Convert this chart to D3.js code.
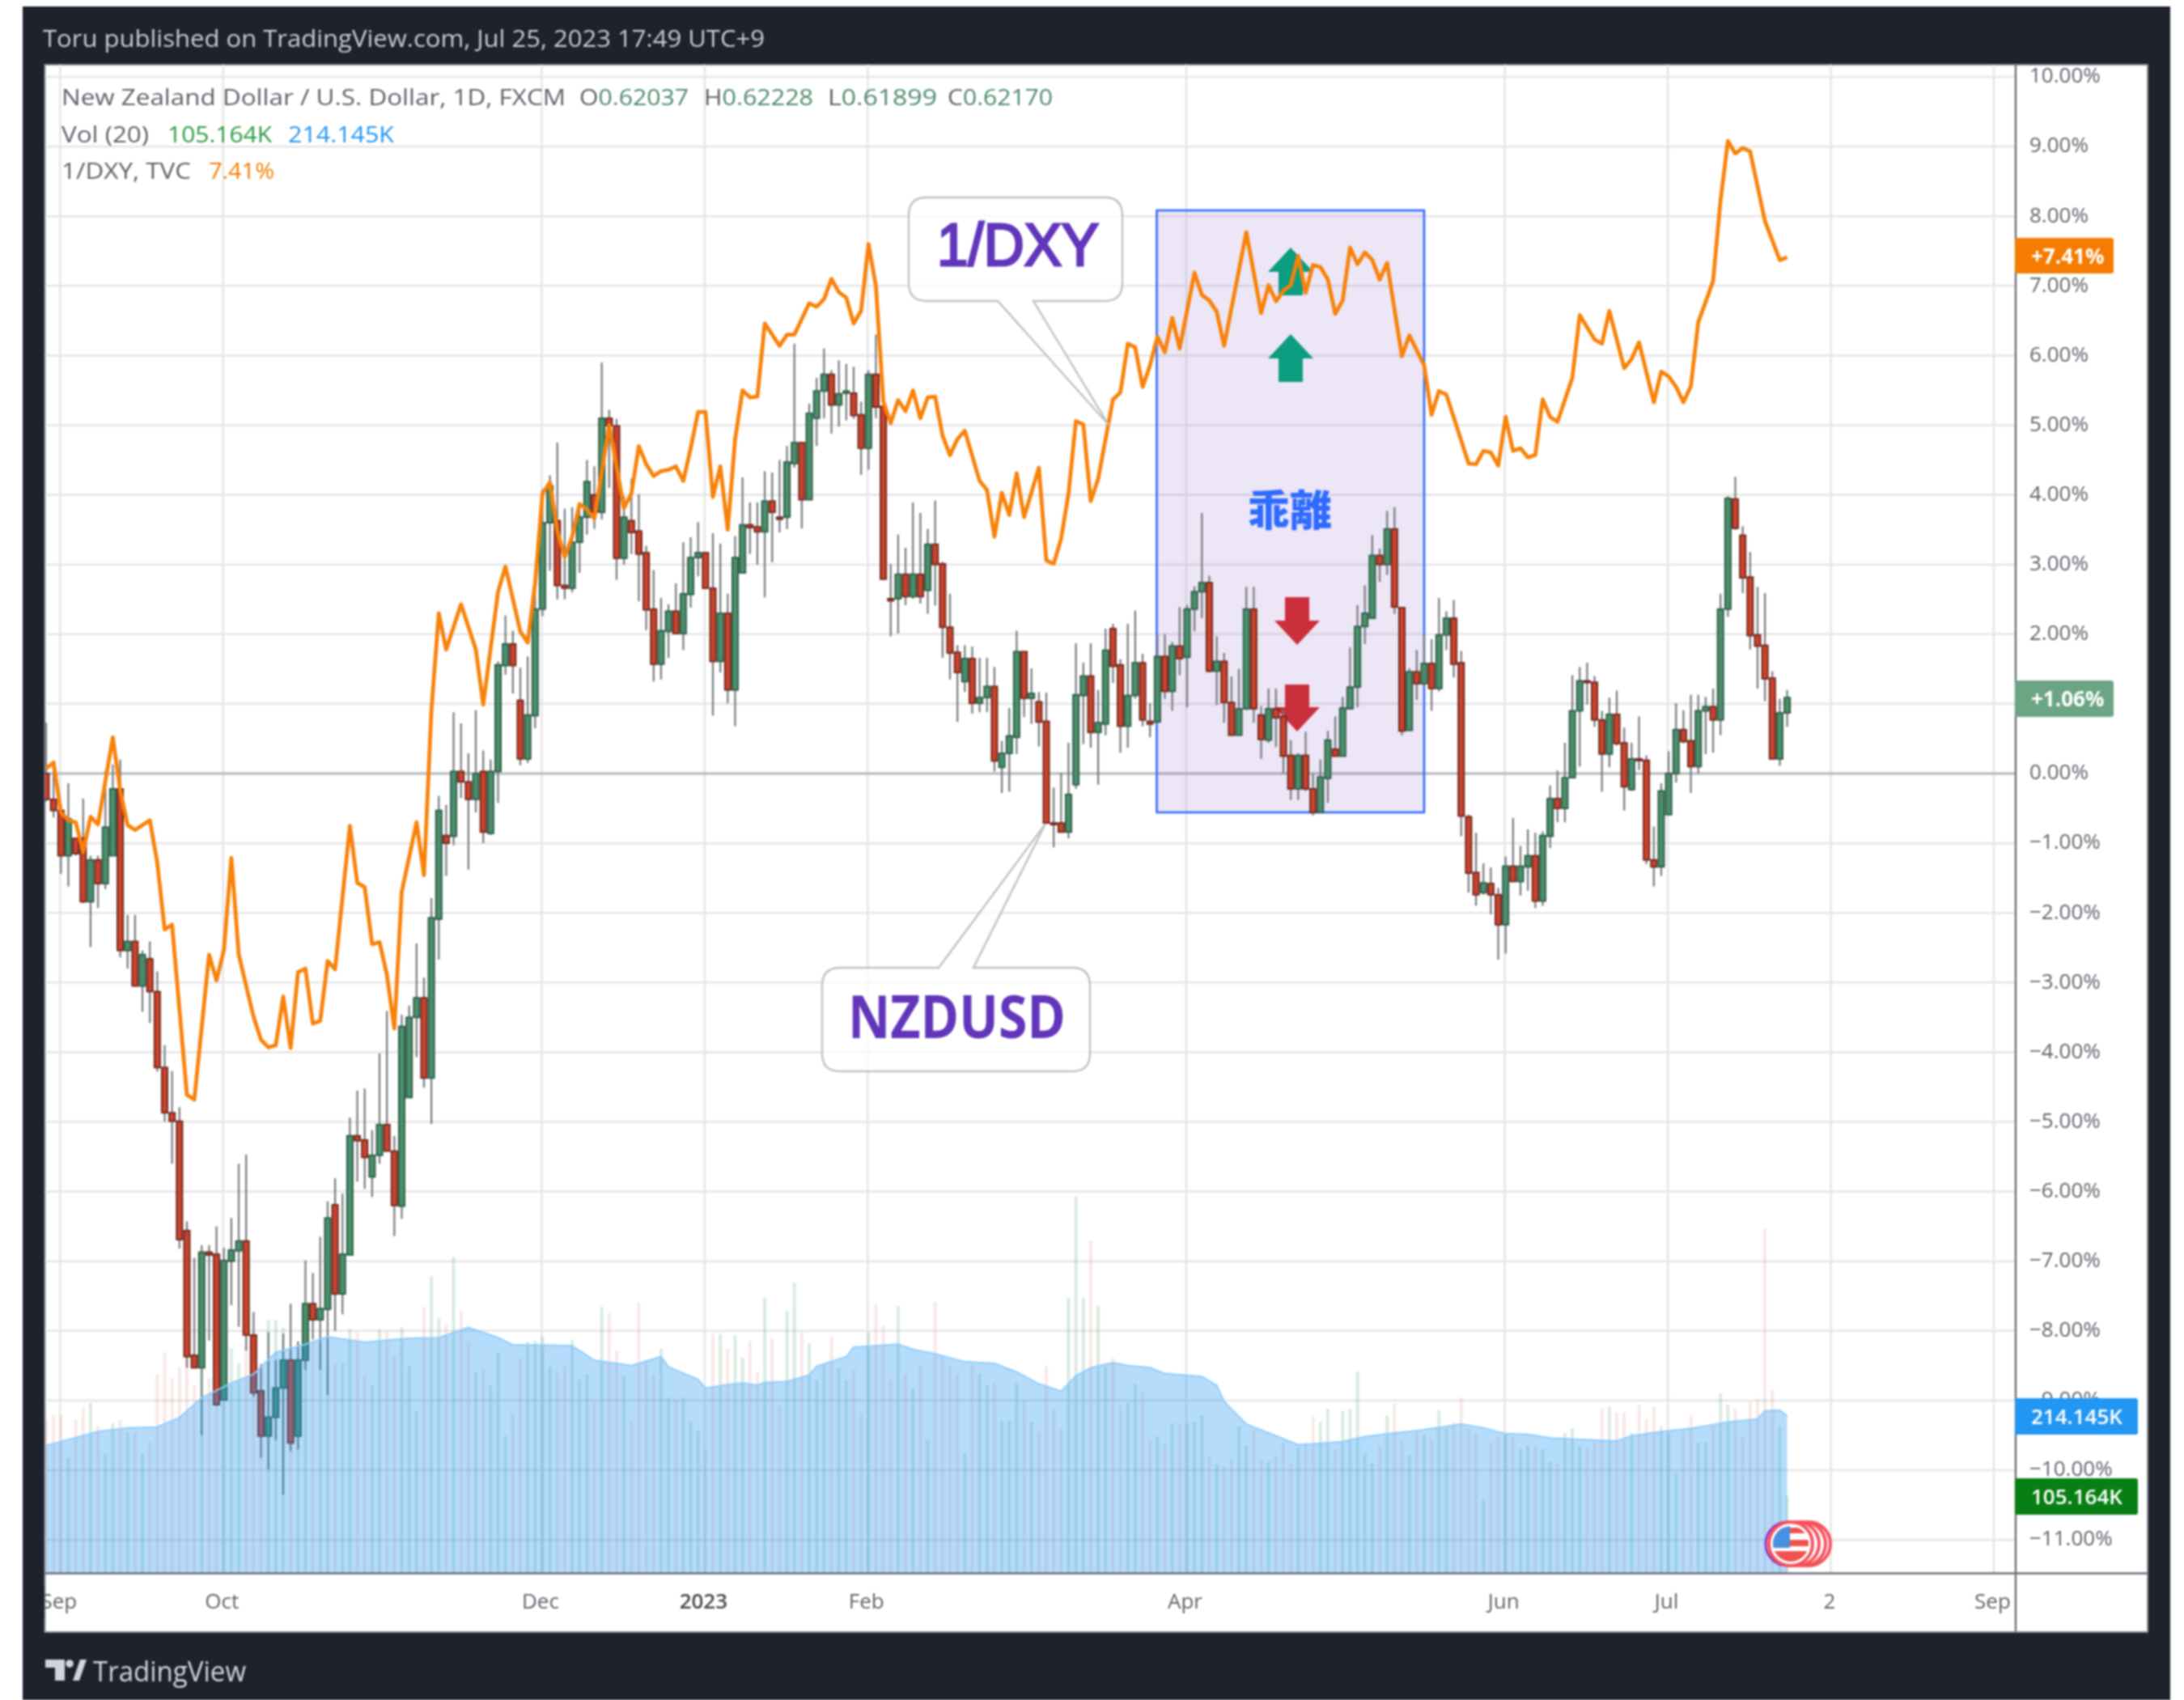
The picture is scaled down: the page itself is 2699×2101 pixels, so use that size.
<!DOCTYPE html>
<html><head><meta charset="utf-8">
<script src="https://cdn.jsdelivr.net/npm/d3@7/dist/d3.min.js"></script>
<style>html,body{margin:0;padding:0;background:#fff;overflow:hidden}svg{display:block;filter:blur(1px)}</style>
</head><body><svg id="c" width="2699" height="2101"></svg>
<script>
const opens=[0,-.37,-.53,-1.18,-.93,-.93,-1.84,-1.24,-1.58,-1.18,
-.22,-2.54,-2.41,-3.05,-2.66,-3.13,-4.22,-4.87,-4.99,-6.56,
-8.35,-8.53,-6.87,-6.9,-8.99,-7.0,-6.85,-6.71,-8.06,-8.86,
-9.51,-9.24,-8.82,-8.42,-9.51,-8.42,-7.61,-7.84,-7.69,-6.19,
-7.47,-6.91,-5.2,-5.26,-5.79,-5.48,-5.04,-5.42,-6.21,-4.65,
-3.5,-3.22,-4.37,-2.09,-.89,-.9,.03,-.12,-.37,.03,
-.86,.03,1.55,1.86,1.05,.21,.83,2.36,3.6,3.63,
2.7,2.66,3.32,3.68,4.0,3.75,5.1,4.99,3.09,3.63,
3.48,3.17,2.36,1.57,2.04,2.33,2.01,2.57,3.1,3.17,
2.66,1.61,2.3,1.2,2.88,3.57,3.54,3.47,3.91,3.68,
3.68,4.45,4.75,3.93,5.1,5.49,5.73,5.29,5.46,5.46,
5.15,4.67,5.73,5.27,2.51,2.51,2.86,2.54,2.86,2.63,
3.29,3.01,2.1,1.74,1.32,1.65,1.01,1.09,1.25,.09,
.29,.52,1.75,1.08,1.03,.75,-.71,-.71,-.84,-.16,
1.12,1.4,.59,.71,2.08,1.56,.68,1.12,1.59,.75,
.74,1.68,1.18,1.83,1.67,2.36,2.61,2.74,1.47,1.61,
1.02,.55,.93,2.36,.84,.48,.93,.82,.26,-.22,
.26,-.22,-.56,-.07,.35,.25,.93,1.24,2.11,2.23,
3.13,3.0,3.51,2.38,.62,1.46,1.29,1.58,1.22,1.99,
2.23,1.59,-.62,-1.42,-1.71,-1.58,-1.74,-2.17,-1.33,-1.55,
-1.34,-1.18,-1.83,-.9,-.36,-.5,-.06,.9,1.33,1.31,
.77,.28,.85,.44,-.23,.21,.19,-1.24,-1.34,-.59,
0,.63,.47,.1,.9,.96,.77,2.36,3.94,3.42,
2.82,1.99,1.84,1.37,.21,.87];
const closes=[-.37,-.53,-1.18,-.65,-1.15,-1.84,-1.24,-1.58,-.77,-.22,
-2.54,-2.41,-3.05,-2.6,-3.13,-4.22,-4.87,-4.99,-6.69,-8.37,
-8.53,-6.87,-6.91,-9.06,-6.99,-6.84,-6.71,-8.06,-8.89,-9.51,
-9.24,-8.82,-8.42,-9.61,-8.42,-7.61,-7.84,-7.68,-6.38,-7.47,
-6.9,-5.2,-5.27,-5.51,-5.48,-5.04,-5.42,-6.2,-3.63,-3.5,
-3.22,-4.37,-2.07,-.53,-1.0,.03,-.12,-.37,0,-.84,
.03,1.56,1.86,1.55,.21,.84,2.36,3.6,4.13,2.7,
2.66,3.32,3.68,4.19,3.75,5.1,4.99,3.09,3.68,3.46,
3.15,2.35,1.57,2.05,2.33,2.01,2.58,3.1,3.17,2.66,
1.61,2.3,1.2,3.1,3.57,3.53,3.47,3.91,3.75,3.65,
4.47,4.75,3.93,5.17,5.49,5.73,5.29,5.45,5.49,5.14,
4.67,5.73,5.26,2.79,2.48,2.86,2.54,2.86,2.54,3.29,
3.0,2.1,1.73,1.45,1.65,1.01,1.09,1.25,.18,.29,
.54,1.75,1.08,1.15,.74,-.71,-.72,-.84,-.3,1.13,
1.4,.59,.73,1.77,1.54,.68,1.12,1.59,.77,.71,
1.68,1.18,1.83,1.65,2.36,2.61,2.74,1.47,1.61,1.02,
.55,.93,2.36,.93,.49,.93,.8,.25,-.22,.26,
-.22,-.56,-.05,.48,.25,.94,1.24,2.11,2.3,3.13,
3.0,3.51,2.39,.61,1.46,1.29,1.58,1.22,1.99,2.23,
1.57,-.61,-1.43,-1.74,-1.57,-1.74,-2.17,-1.33,-1.55,-1.33,
-1.18,-1.83,-.89,-.36,-.5,-.06,.9,1.33,1.31,.77,
.28,.85,.43,-.19,.21,.19,-1.24,-1.34,-.25,0,
.63,.46,.1,.9,.96,.77,2.36,3.95,3.52,2.81,
1.98,1.83,1.36,.21,.87,1.09];
const highs=[.73,.09,-.45,-.14,-.93,-.36,-1.18,-1.18,.04,.13,
.2,-2.03,-2.03,-2.54,-2.41,-2.84,-3.9,-4.27,-4.79,-6.43,
-6.95,-6.77,-6.77,-6.5,-6.81,-6.38,-5.6,-5.47,-7.73,-8.48,
-8.02,-8.42,-8.04,-7.61,-8.15,-6.99,-7.17,-6.65,-6.14,-5.81,
-6.03,-4.94,-4.55,-4.52,-5.12,-4.02,-3.41,-5.2,-3.46,-3.33,
-2.44,-2.93,-1.79,-.32,-.45,.88,.72,.29,.91,.33,
.2,1.61,2.27,2.05,1.52,1.68,2.65,4.08,4.28,4.75,
3.8,3.82,3.87,4.5,4.41,5.9,5.22,5.09,3.98,4.23,
4.01,3.27,2.92,2.52,2.43,2.73,3.32,3.39,3.61,3.17,
3.45,3.3,2.58,3.41,4.25,3.89,3.89,4.34,4.32,4.5,
4.7,6.17,4.75,5.31,5.68,6.1,5.79,5.93,5.88,5.84,
5.34,5.79,6.3,5.27,3.01,3.43,3.24,3.89,3.74,3.51,
3.92,3.04,2.58,1.84,1.84,1.82,1.66,1.66,1.53,.47,
.94,2.05,1.75,1.51,1.17,1.16,-.2,.01,.44,1.87,
1.59,1.87,1.2,2.08,2.15,1.64,2.15,2.34,1.72,1.01,
2.0,2.0,1.89,2.39,2.42,2.69,3.74,2.84,1.97,1.73,
1.39,1.5,2.68,2.68,.97,1.22,1.22,.91,.48,.29,
.6,0,.2,.61,.82,1.1,1.81,2.42,2.7,3.42,
3.23,3.77,3.82,2.39,1.51,1.77,2.0,1.93,2.52,2.33,
2.49,1.76,-.59,-.85,-1.29,-1.35,-1.64,-1.19,-.64,-1.04,
-.8,-.85,-.83,-.17,.04,.44,1.41,1.53,1.59,1.4,
.9,1.09,1.19,.66,.44,.82,.26,-.76,-.14,.32,
1.01,.91,1.13,1.13,1.1,1.22,2.58,3.98,4.26,3.55,
3.18,2.68,2.59,1.47,1.07,1.2];
const lows=[-.40,-.63,-1.44,-1.62,-1.18,-1.86,-2.49,-1.93,-1.66,-1.18,
-2.64,-2.8,-3.05,-3.42,-3.58,-4.28,-5.0,-5.6,-6.82,-8.53,
-8.53,-9.5,-8.14,-9.08,-9.0,-7.63,-7.94,-8.28,-8.95,-9.82,
-9.99,-9.57,-10.35,-9.73,-9.7,-8.56,-8.12,-8.56,-8.92,-8.0,
-7.76,-6.91,-5.86,-5.96,-6.08,-5.6,-5.42,-6.64,-6.39,-4.65,
-4.07,-4.51,-5.03,-2.67,-1.47,-1.03,-.35,-1.38,-.56,-1.0,
-.88,-.42,1.42,1.15,.12,.15,.65,2.26,2.91,2.5,
2.5,2.6,2.88,3.43,3.51,3.65,4.1,2.78,3.0,3.15,
2.47,2.06,1.32,1.35,1.66,2.01,1.77,2.38,2.83,2.66,
.83,1.45,1.01,.68,2.88,3.15,3.0,2.53,3.03,3.46,
3.51,4.39,3.52,3.93,4.7,5.1,4.88,4.98,5.07,5.09,
4.29,4.36,5.1,2.79,1.97,2.01,2.42,2.51,2.44,2.29,
2.41,1.66,1.35,.74,1.17,.86,.88,.88,.03,-.28,
-.26,.28,.81,.71,.39,-.71,-1.06,-.85,-.93,-.22,
.42,.37,-.16,.55,1.3,.3,.37,1.07,.68,.52,
.74,1.07,.9,1.41,.95,2.04,2.23,1.45,.98,.73,
.55,.55,.91,.73,.21,.44,.38,0,-.38,-.38,
-.25,-.6,-.56,-.42,.25,.25,.93,.95,1.86,2.23,
2.75,2.85,2.29,.55,.62,1.06,1.24,.9,1.18,1.77,
1.38,-.9,-1.71,-1.9,-1.74,-2.02,-2.67,-2.58,-1.55,-1.75,
-1.68,-1.93,-1.9,-1.07,-.7,-.7,-.07,.1,.99,.67,
-.26,.09,.4,-.53,-.25,.05,-1.3,-1.62,-1.47,-.59,
-.13,.43,-.28,0,.28,.3,.55,2.25,3.5,2.59,
1.78,1.22,1.04,.21,.11,.67];
const volumes=[209,215,215,157,209,226,232,200,162,204,
209,192,192,162,179,271,301,266,281,290,
256,281,266,281,290,306,286,311,286,286,
345,345,335,306,296,301,318,311,281,286,
286,333,328,271,256,333,330,296,335,283,
221,363,405,348,340,431,358,316,274,278,
256,301,187,219,293,316,317,322,281,274,
283,318,264,271,234,363,355,303,269,207,
369,291,271,306,239,236,239,207,194,170,
326,326,306,324,294,317,274,376,319,228,
358,396,328,313,263,285,322,280,263,278,
219,328,367,337,263,364,272,252,283,182,
370,295,283,272,163,283,272,256,259,208,
208,259,235,206,193,282,224,197,376,514,
376,453,364,282,293,228,232,258,248,180,
186,178,204,204,204,206,215,160,149,145,
156,200,174,195,154,152,160,178,149,171,
178,213,206,224,169,221,224,275,163,150,
174,215,231,182,161,193,189,182,222,197,
206,239,197,189,100,178,186,189,186,169,
174,174,169,152,149,191,197,173,171,178,
224,227,219,219,191,230,210,227,200,191,
136,193,215,178,178,200,245,230,224,186,
233,237,470,250,200,105.164];
const volMaBars=[0,3,7,11,15,18,21,25,28,31,35,38,43,49,53,57,61,63,67,71,74,79,83,84,88,89,92,94,96,97,100,103,104,108,109,112,115,117,120,124,128,131,134,137,139,141,144,146,149,151,156,158,159,162,165,169,171,175,178,182,185,191,194,197,200,203,207,212,214,219,222,227,231,232,234,235];
const volMaValues=[174,182,193,198,199,212,239,259,271,301,312,322,315,320,321,335,321,311,311,310,290,283,295,281,264,252,257,259,256,260,261,270,282,295,308,310,312,305,299,288,286,274,258,248,269,280,287,283,280,272,268,256,234,203,191,175,176,179,186,191,194,203,198,190,189,184,182,180,187,194,197,206,210,221,222,214.145];
const dxyBars=[0,1,2,3,4,5,6,7,9,10,11,12,14,15,16,17,19,20,22,23,24,25,26,28,29,30,31,32,33,34,35,36,37,38,39,41,42,43,44,45,46,47,48,50,51,52,53,54,56,58,59,61,62,64,65,66,67,68,69,70,71,72,73,74,76,78,79,80,81,82,83,84,85,86,87,88,89,90,91,92,93,94,95,96,97,99,100,101,103,104,105,106,107,108,109,110,111,112,113,114,115,116,117,118,119,120,121,122,123,124,126,127,128,129,130,131,132,134,135,136,137,138,139,140,141,142,144,145,146,147,148,149,150,151,152,153,155,156,157,158,159,162,164,165,166,167,168,169,170,171,172,173,174,175,176,177,178,179,180,181,183,184,186,187,188,189,192,193,194,195,196,197,198,199,200,201,202,203,204,206,207,209,210,211,213,214,215,217,218,219,220,221,222,223,224,225,226,227,228,229,230,232,234,235];
const dxyValues=[.07,.16,-.56,-.67,-.70,-1.13,-.62,-.73,.52,-.24,-.74,-.81,-.67,-1.28,-2.24,-2.17,-4.61,-4.68,-2.60,-2.97,-2.53,-1.21,-2.60,-3.49,-3.82,-3.93,-3.90,-3.20,-3.94,-2.85,-2.80,-3.59,-3.55,-2.69,-2.81,-.75,-1.57,-1.63,-2.45,-2.42,-2.89,-3.66,-1.70,-.70,-1.46,.90,2.30,1.78,2.43,1.78,.99,2.61,2.97,2.04,1.88,2.73,4.02,4.18,3.48,3.11,3.40,3.87,3.79,3.66,5.0,3.81,4.02,4.70,4.44,4.27,4.34,4.36,4.41,4.20,4.67,5.19,5.19,3.97,4.41,3.50,4.80,5.50,5.40,5.41,6.46,6.14,6.30,6.30,6.75,6.70,6.81,7.10,6.91,6.83,6.46,6.64,7.60,7.0,5.34,5.03,5.36,5.2,5.5,5.1,5.4,5.41,4.85,4.57,4.8,4.92,4.2,4.07,3.4,4.03,3.71,4.31,3.68,4.39,3.06,3.01,3.37,4.02,5.06,5.01,3.91,4.23,5.37,5.47,6.17,6.12,5.55,5.86,6.27,6.05,6.54,6.10,7.19,6.87,6.79,6.63,6.14,7.77,6.61,7.01,6.78,6.93,7.01,7.43,6.90,7.30,7.27,7.09,6.60,6.79,7.55,7.31,7.48,7.37,7.09,7.33,5.99,6.29,5.86,5.15,5.49,5.44,4.45,4.44,4.63,4.61,4.42,5.12,4.63,4.67,4.54,4.57,5.37,5.12,5.05,5.68,6.58,6.23,6.17,6.64,5.82,5.95,6.19,5.33,5.77,5.70,5.55,5.33,5.56,6.48,6.77,7.07,8.22,9.08,8.9,8.98,8.93,7.93,7.37,7.41];
const monthBars=[2,24,67,89,111,154,197,219,241,263];
const monthLabels=["Sep","Oct","Dec","2023","Feb","Apr","Jun","Jul","2","Sep"];
const pctTicks=[10,9,8,7,6,5,4,3,2,1,0,-1,-2,-3,-4,-5,-6,-7,-8,-9,-10,-11];

const FONT='"Open Sans","Liberation Sans",sans-serif';
const svg=d3.select('#c');
const x=d3.scaleLinear().domain([0,235]).range([57,2208.6]);
const y=d3.scaleLinear().domain([0,10]).range([956,95]);
const vol=d3.scaleLinear().domain([0,214.145]).range([1944,1750]);
const PL=55.5,PR=2491,PT=80,PB=1944.5,FB=2017,FR=2654;

svg.append('rect').attr('x',28).attr('y',8).attr('width',2654).attr('height',2093).attr('fill','#1e222d');
svg.append('rect').attr('x',PL).attr('y',PT).attr('width',FR-PL).attr('height',FB-PT).attr('fill','#fff').attr('stroke','#8d9098').attr('stroke-width',2);
svg.append('clipPath').attr('id','plot').append('rect').attr('x',PL).attr('y',PT).attr('width',PR-PL).attr('height',PB-PT);
const plot=svg.append('g').attr('clip-path','url(#plot)');

// grid
plot.append('g').selectAll('line').data(pctTicks.filter(d=>d!==0)).join('line')
 .attr('x1',PL).attr('x2',PR).attr('y1',d=>y(d)).attr('y2',d=>y(d)).attr('stroke','#e6e6e7').attr('stroke-width',2.6);
plot.append('g').selectAll('line').data(monthBars).join('line')
 .attr('x1',d=>x(d)-1).attr('x2',d=>x(d)-1).attr('y1',PT).attr('y2',PB).attr('stroke','#e6e6e7').attr('stroke-width',2.6);
plot.append('line').attr('x1',PL).attr('x2',PR).attr('y1',y(0)).attr('y2',y(0)).attr('stroke','#b4b7bd').attr('stroke-width',2.8);

// divergence box and arrows
plot.append('rect').attr('x',1429.5).attr('y',260).attr('width',330.5).attr('height',744)
 .attr('fill','rgba(103,58,183,0.125)').attr('stroke','#2f6bff').attr('stroke-width',2.6);
const up=(cx,t,b)=>`M${cx} ${t}L${cx+28} ${t+30}H${cx+15}V${b}H${cx-15}V${t+30}H${cx-28}Z`;
const dn=(cx,t,b)=>`M${cx-15} ${t}H${cx+15}V${b-30}H${cx+28}L${cx} ${b}L${cx-28} ${b-30}H${cx-15}Z`;
plot.append('path').attr('d',up(1595,306,365)).attr('fill','#0d9d80');
plot.append('path').attr('d',up(1595,413,472)).attr('fill','#0d9d80');
plot.append('path').attr('d',dn(1603,738,797)).attr('fill','#cc2f3c');
plot.append('path').attr('d',dn(1603,846,904)).attr('fill','#cc2f3c');

// candles
const idx=d3.range(opens.length);
plot.append('g').selectAll('line').data(idx).join('line')
 .attr('x1',i=>x(i)).attr('x2',i=>x(i)).attr('y1',i=>y(highs[i])).attr('y2',i=>y(lows[i]))
 .attr('stroke','#76787c').attr('stroke-width',2.2);
plot.append('g').selectAll('rect').data(idx).join('rect')
 .attr('x',i=>x(i)-3.6).attr('width',7.2)
 .attr('y',i=>y(Math.max(opens[i],closes[i])))
 .attr('height',i=>Math.max(2,Math.abs(y(opens[i])-y(closes[i]))))
 .attr('fill',i=>closes[i]>=opens[i]?'#4c8f6c':'#c8442f')
 .attr('stroke',i=>closes[i]>=opens[i]?'#2a5a44':'#6c2419').attr('stroke-width',1.8);

// volume
plot.append('g').selectAll('rect').data(idx).join('rect')
 .attr('x',i=>x(i)-1.9).attr('width',3.8).attr('y',i=>vol(volumes[i])).attr('height',i=>vol(0)-vol(volumes[i]))
 .attr('fill',i=>closes[i]>=opens[i]?'rgba(83,160,110,0.22)':'rgba(215,110,100,0.17)');
const maPts=volMaBars.map((b,i)=>[b,volMaValues[i]]);
plot.append('path').attr('d',d3.area().x(d=>x(d[0])).y0(vol(0)).y1(d=>vol(d[1]))(maPts)).attr('fill','rgba(33,150,243,0.33)');
plot.append('path').attr('d',d3.line().x(d=>x(d[0])).y(d=>vol(d[1]))(maPts)).attr('fill','none').attr('stroke','#90cdfd').attr('stroke-width',2);

// 1/DXY
const dxyPts=dxyBars.map((b,i)=>[b,dxyValues[i]]);
plot.append('path').attr('d',d3.line().x(d=>x(d[0])).y(d=>y(d[1]))(dxyPts)).attr('fill','none').attr('stroke','#f8820a').attr('stroke-width',4.8).attr('stroke-linejoin','round');

// divergence label
plot.append('text').attr('x',1594).attr('y',650).attr('text-anchor','middle').attr('font-family','"Noto Sans CJK JP"').attr('font-weight',900).attr('font-size',52).attr('fill','#2f6bff').text('乖離');

// callouts
function callout(l,t,r,b,px1,px2,tipx,tipy,top){
  const R=22;
  const d= top
   ? `M${l+R} ${t}H${px1}L${tipx} ${tipy}L${px2} ${t}H${r-R}Q${r} ${t} ${r} ${t+R}V${b-R}Q${r} ${b} ${r-R} ${b}H${l+R}Q${l} ${b} ${l} ${b-R}V${t+R}Q${l} ${t} ${l+R} ${t}Z`
   : `M${l+R} ${t}H${r-R}Q${r} ${t} ${r} ${t+R}V${b-R}Q${r} ${b} ${r-R} ${b}H${px2}L${tipx} ${tipy}L${px1} ${b}H${l+R}Q${l} ${b} ${l} ${b-R}V${t+R}Q${l} ${t} ${l+R} ${t}Z`;
  plot.append('path').attr('d',d).attr('fill','rgba(255,255,255,0.72)').attr('stroke','#c0c1c4').attr('stroke-width',2.4);
}
callout(1123,244,1387,372,1233,1277,1370,525,false);
callout(1016,1196,1347,1324,1160,1203,1292,1018,true);
plot.append('text').attr('x',1158).attr('y',328).attr('font-family','"Liberation Sans"').attr('font-size',74).attr('font-weight',400).attr('stroke','#6236bb').attr('stroke-width',3).attr('fill','#6236bb').attr('textLength',200).attr('lengthAdjust','spacingAndGlyphs').text('1/DXY');
plot.append('text').attr('x',1048).attr('y',1283).attr('font-family',FONT).attr('font-size',74).attr('font-weight',700).attr('fill','#6236bb').attr('textLength',269).attr('lengthAdjust','spacingAndGlyphs').text('NZDUSD');

// event flags
const fg=svg.append('g');
fg.append('circle').attr('cx',2209).attr('cy',1908).attr('r',27).attr('fill','#fff').attr('stroke','#9a35c2').attr('stroke-width',3);
[2235,2229,2221].forEach(c=>fg.append('circle').attr('cx',c).attr('cy',1908).attr('r',27).attr('fill','#fff').attr('stroke','#f5525c').attr('stroke-width',4));
fg.append('circle').attr('cx',2213).attr('cy',1908).attr('r',27).attr('fill','#fff').attr('stroke','#f5525c').attr('stroke-width',4);
svg.append('clipPath').attr('id','flag').append('circle').attr('cx',2213).attr('cy',1908).attr('r',22);
const fl=fg.append('g').attr('clip-path','url(#flag)');
fl.append('rect').attr('x',2190).attr('y',1917).attr('width',46).attr('height',14).attr('fill','#ef5350');
fl.append('rect').attr('x',2190).attr('y',1903).attr('width',46).attr('height',8).attr('fill','#ef5350');
fl.append('rect').attr('x',2190).attr('y',1888).attr('width',46).attr('height',7).attr('fill','#ef5350');
fl.append('rect').attr('x',2190).attr('y',1886).attr('width',22).attr('height',27).attr('fill','#4a90e2');

// axes lines
svg.append('line').attr('x1',PR).attr('x2',PR).attr('y1',PT).attr('y2',FB).attr('stroke','#6c6e73').attr('stroke-width',2.4);
svg.append('line').attr('x1',PL).attr('x2',FR).attr('y1',PB).attr('y2',PB).attr('stroke','#6c6e73').attr('stroke-width',2.4);

// right axis
const fmtPct=d=>(d<0?'\u2212':'')+Math.abs(d).toFixed(2)+'%';
const ay=svg.append('g').attr('transform',`translate(${PR},-1.5)`)
 .call(d3.axisRight(y).tickValues(pctTicks).tickSize(0).tickPadding(17).tickFormat(fmtPct));
ay.select('.domain').remove();
ay.selectAll('text').attr('font-family',FONT).attr('font-size',26).attr('fill','#62656e');

// time axis
const ax=svg.append('g').attr('transform',`translate(-3,${PB})`)
 .call(d3.axisBottom(x).tickValues(monthBars).tickSize(0).tickPadding(25).tickFormat((d,i)=>monthLabels[i]));
ax.select('.domain').remove();
ax.selectAll('text').attr('font-family',FONT).attr('font-size',26).attr('fill',(d,i)=>monthLabels[i]==='2023'?'#4a4c54':'#62656e').attr('font-weight',(d,i)=>monthLabels[i]==='2023'?600:400);
svg.append('rect').attr('x',30).attr('y',1960).attr('width',24.5).attr('height',40).attr('fill','#1e222d');

// tags
function tag(t,b,r,fill,label,fw){
  svg.append('rect').attr('x',PR-1).attr('y',t).attr('width',r-PR+1).attr('height',b-t).attr('rx',3).attr('fill',fill);
  return svg.append('text').attr('y',(t+b)/2+9.5).attr('font-family',FONT).attr('font-size',26).attr('font-weight',fw).attr('fill','#fff').text(label);
}
tag(294,338,2612,'#f57c00','+7.41%',700).attr('x',2510);
tag(841,886,2612,'#6ca584','+1.06%',700).attr('x',2510);
tag(1728,1773,2642,'#2196f3','214.145K',600).attr('x',2510);
tag(1827,1872,2642,'#087f14','105.164K',600).attr('x',2510);

// text rows
const T=(px,py,s,fill,len,size=29,fw=400)=>{const e=svg.append('text').attr('x',px).attr('y',py).attr('font-family',FONT).attr('font-size',size).attr('font-weight',fw).attr('fill',fill).text(s);if(len)e.attr('textLength',len).attr('lengthAdjust','spacingAndGlyphs');return e;};
T(53,58,'Toru published on TradingView.com, Jul 25, 2023 17:49 UTC+9','#c9cbd2',892,30,500);
T(76,130,'New Zealand Dollar / U.S. Dollar, 1D, FXCM','#5f626b',623,28);
const ohlc=[['O','0.62037',716],['H','0.62228',870],['L','0.61899',1023],['C','0.62170',1171]];
ohlc.forEach(r=>{const e=svg.append('text').attr('x',r[2]).attr('y',130).attr('font-family',FONT).attr('font-size',28).attr('textLength',r[0]==='C'?130:135).attr('lengthAdjust','spacingAndGlyphs');e.append('tspan').attr('fill','#5f626b').text(r[0]);e.append('tspan').attr('fill','#4c8a6b').text(r[1]);});
T(76,176,'Vol (20)','#5f626b',108,28);
T(207,176,'105.164K','#2c9a43',129,28);
T(356,176,'214.145K','#2196f3',131,28);
T(76,221,'1/DXY, TVC','#5f626b',160,28);
T(258,221,'7.41%','#f57c00',81,28);

// logo
svg.append('path').attr('d','M56 2051H80V2077H68V2061H56ZM90 2077L99 2051H107L98 2077Z').attr('fill','#d1d4dc');
svg.append('circle').attr('cx',86).attr('cy',2056).attr('r',4.8).attr('fill','#d1d4dc');
T(115,2078,'TradingView','#d1d4dc',189,34);
</script></body></html>
